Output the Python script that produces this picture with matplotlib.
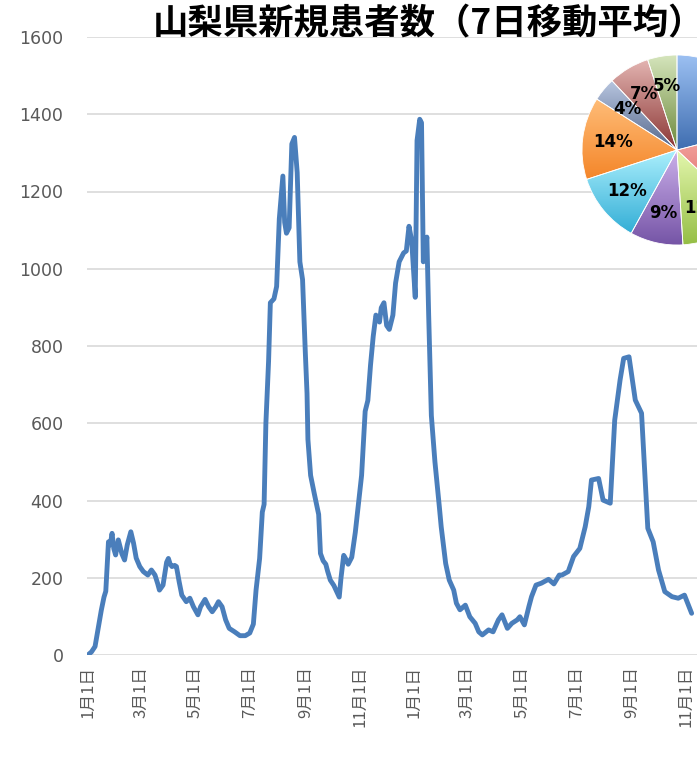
import matplotlib
matplotlib.use("Agg")
import matplotlib.pyplot as plt
import numpy as np
import pandas as pd
from matplotlib.colors import LinearSegmentedColormap

plt.rcParams["font.family"] = ["Noto Sans CJK JP", "DejaVu Sans"]

# ---------------------------------------------------------------------------
# Data
# ---------------------------------------------------------------------------

START = "2022-01-01"

# days since START, 7-day average of new cases
day_offsets = [
    0, 4, 8, 12, 15, 18, 20, 23, 25, 27, 29, 31, 34, 36, 38, 41, 44, 48, 51,
    54, 58, 62, 67, 71, 75, 78, 80, 84, 88, 90, 92, 94, 97, 99, 102, 105, 110,
    114, 118, 123, 126, 131, 135, 139, 143, 146, 150, 154, 158, 164, 170, 176,
    181, 185, 188, 192, 195, 197, 199, 202, 204, 208, 211, 214, 217, 218, 220,
    222, 225, 228, 231, 234, 237, 240, 243, 245, 246, 249, 253, 258, 260, 263,
    266, 268, 271, 275, 279, 281, 283, 286, 288, 291, 295, 299, 302, 306, 310,
    313, 316, 319, 322, 326, 328, 331, 334, 337, 341, 344, 348, 353, 356, 359,
    362, 366, 368, 371, 373, 375, 379, 381, 384, 388, 390, 393, 395, 400, 404,
    409, 412, 416, 422, 427, 433, 437, 441, 448, 453, 459, 463, 469, 474, 480,
    483, 488, 493, 496, 501, 507, 515, 521, 527, 530, 537, 543, 550, 556, 560,
    563, 571, 576, 584, 589, 595, 599, 605, 612, 619, 626, 632, 638, 645, 653,
    660, 667, 675,
]
cases = [
    0, 8, 22, 75, 116, 150, 165, 293, 285, 315, 275, 259, 298, 280, 262, 246,
    285, 319, 290, 251, 229, 216, 207, 220, 207, 185, 168, 181, 240, 250, 235,
    229, 232, 229, 190, 155, 138, 147, 125, 104, 125, 144, 125, 112, 125, 138,
    125, 91, 69, 60, 50, 50, 57, 80, 168, 250, 370, 390, 600, 760, 912, 922,
    954, 1129, 1212, 1240, 1120, 1092, 1106, 1323, 1340, 1249, 1018, 972, 788,
    677, 558, 465, 419, 364, 263, 244, 235, 217, 194, 180, 160, 150, 200, 258,
    250, 235, 253, 318, 382, 465, 631, 659, 751, 825, 880, 862, 899, 912, 853,
    843, 880, 963, 1018, 1041, 1046, 1110, 1073, 926, 1332, 1387, 1378, 1018,
    1082, 880, 620, 500, 453, 382, 332, 237, 194, 168, 134, 117, 129, 99, 82,
    60, 52, 65, 60, 91, 104, 69, 82, 91, 99, 78, 125, 151, 181, 186, 196, 184,
    207, 207, 216, 255, 276, 332, 384, 453, 457, 401, 393, 608, 712, 768, 772,
    660, 626, 328, 293, 220, 164, 151, 147, 155, 108,
]

tick_dates = [
    "2022-01-01", "2022-03-01", "2022-05-01", "2022-07-01", "2022-09-01",
    "2022-11-01", "2023-01-01", "2023-03-01", "2023-05-01", "2023-07-01",
    "2023-09-01", "2023-11-01",
]
tick_labels = [
    "1月1日", "3月1日", "5月1日", "7月1日", "9月1日", "11月1日",
    "1月1日", "3月1日", "5月1日", "7月1日", "9月1日", "11月1日",
]

# pie in the corner (clockwise from 12 o'clock), partly cut off in the source
pie_shares = [21, 16, 12, 9, 12, 14, 4, 7, 5]
pie_light = ["#9CC0F2", "#F6ADA9", "#E4F7AE", "#CBB0EA", "#ADF0FD",
             "#FFBD78", "#B8C6E0", "#E4B5B2", "#D5E5BC"]
pie_dark = ["#3E6DB0", "#DA605B", "#95BE45", "#7554A6", "#33AED6",
            "#F4862A", "#56688C", "#8A3634", "#6C883A"]

TITLE = "山梨県新規患者数（7日移動平均）"

# ---------------------------------------------------------------------------
# Plot
# ---------------------------------------------------------------------------

W, H = 697, 757
fig = plt.figure(figsize=(W / 100, H / 100), dpi=100)

# main line chart
ax = fig.add_axes([87 / W, (H - 655) / H, (W - 87) / W, (655 - 37) / H])
dates = pd.Timestamp(START) + pd.to_timedelta(day_offsets, unit="D")
ax.plot(dates, cases, color="#4A7EBB", lw=3.5,
        solid_joinstyle="round", solid_capstyle="round", zorder=3)

ax.set_ylim(0, 1600)
ax.set_xlim(pd.Timestamp("2021-12-31"), pd.Timestamp("2023-11-13"))
ax.set_yticks(range(0, 1601, 200))
ax.set_xticks(pd.to_datetime(tick_dates))
ax.set_xticklabels(tick_labels, rotation=90)
ax.yaxis.grid(True, color="#D9D9D9", lw=1.2)
ax.set_axisbelow(True)
for s in ax.spines.values():
    s.set_visible(False)
ax.tick_params(axis="y", length=0, pad=17, labelcolor="#595959")
ax.tick_params(axis="x", length=0, pad=8, labelsize=12, labelcolor="#595959")
for lbl in ax.get_yticklabels():
    lbl.set_family(["DejaVu Sans"])
    lbl.set_fontsize(12.5)

# pie chart (overlapping the upper right corner)
cx, cy, r = 677, 150, 95
pax = fig.add_axes([(cx - r) / W, (H - cy - r) / H, 2 * r / W, 2 * r / H])
wedges, _, autotexts = pax.pie(
    pie_shares,
    startangle=90,
    counterclock=False,
    autopct=lambda p: f"{p:.0f}%",
    pctdistance=0.68,
    wedgeprops=dict(edgecolor="white", linewidth=0.6),
)
grad = np.linspace(0, 1, 256).reshape(-1, 1)
for w, lo, hi in zip(wedges, pie_dark, pie_light):
    ext = w.get_path().get_extents()
    cmap = LinearSegmentedColormap.from_list("g", [lo, hi])
    im = pax.imshow(grad, extent=[ext.x0, ext.x1, ext.y0, ext.y1],
                    origin="lower", cmap=cmap, aspect="auto", zorder=1.5)
    im.set_clip_path(w)
    w.set_facecolor("none")
    w.set_zorder(2)
for t in autotexts:
    t.set_family(["DejaVu Sans"])
    t.set_fontsize(12)
    t.set_fontweight("bold")
    t.set_color("black")
    t.set_zorder(4)
pax.set_xlim(-1, 1)
pax.set_ylim(-1, 1)
pax.set_aspect("auto")
pax.axis("off")

# title
fig.text(153 / W, 1 - 24 / H, TITLE, ha="left", va="center",
         fontsize=25.5, fontweight="bold", color="black")

fig.savefig("out.png", dpi=100)
